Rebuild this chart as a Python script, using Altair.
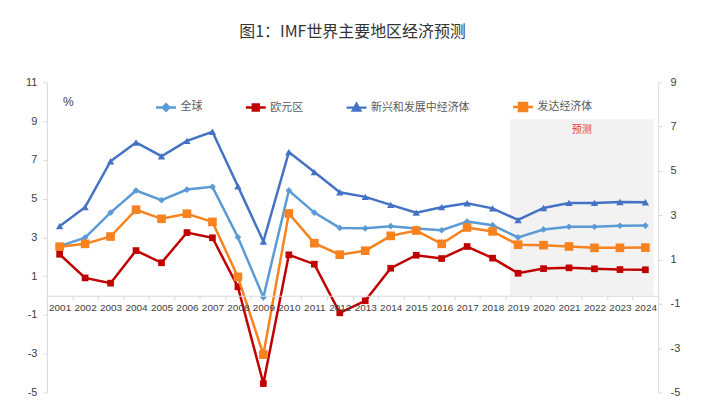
import altair as alt
import pandas as pd

# ---------------- data ----------------
years = ["2001", "2002", "2003", "2004", "2005", "2006", "2007", "2008",
         "2009", "2010", "2011", "2012", "2013", "2014", "2015", "2016",
         "2017", "2018", "2019", "2020", "2021", "2022", "2023", "2024"]
series_names = ["全球", "欧元区", "新兴和发展中经济体", "发达经济体"]

# left axis (%)
world = [2.55, 2.99, 4.28, 5.42, 4.92, 5.47, 5.61, 3.01, -0.09, 5.42, 4.28, 3.49,
         3.47, 3.58, 3.46, 3.37, 3.82, 3.63, 3.0, 3.41, 3.55, 3.55, 3.6, 3.61]
euro = [2.13, 0.91, 0.64, 2.32, 1.69, 3.25, 2.98, 0.45, -4.54, 2.10, 1.62, -0.89,
        -0.27, 1.41, 2.08, 1.91, 2.53, 1.93, 1.15, 1.39, 1.43, 1.38, 1.34, 1.33]
emerging = [3.58, 4.56, 6.93, 7.9, 7.19, 7.98, 8.45, 5.64, 2.79, 7.40, 6.37, 5.33,
            5.09, 4.68, 4.28, 4.56, 4.76, 4.50, 3.90, 4.52, 4.78, 4.78, 4.83, 4.81]
# right axis (%)
advanced = [1.58, 1.71, 2.04, 3.25, 2.84, 3.07, 2.70, 0.22, -3.29, 3.08, 1.74, 1.22,
            1.40, 2.07, 2.31, 1.71, 2.45, 2.27, 1.67, 1.65, 1.59, 1.53, 1.53, 1.54]

left_ticks = [-5, -3, -1, 1, 3, 5, 7, 9, 11]
right_ticks = [-5, -3, -1, 1, 3, 5, 7, 9]
forecast_start, forecast_end = "2019", "2024"
forecast_lo, forecast_hi = 0, 9.1
forecast_label = "预测"
label_year = "2021"

# ---------------- styles ----------------
series_colors = ["#5B9BD5", "#C00000", "#4472C4", "#F7821E"]
point_shapes = ["diamond", "square", "triangle-up", "square"]
point_sizes = [45, 45, 55, 75]
legend_paths = [
    "M-1,0H1M0,-0.32L0.32,0L0,0.32L-0.32,0Z",
    "M-1,0H1M-0.3,-0.3H0.3V0.3H-0.3Z",
    "M-1,0H1M0,-0.38L0.36,0.28H-0.36Z",
    "M-1,0H1M-0.4,-0.4H0.4V0.4H-0.4Z",
]
CJK = "Noto Sans CJK SC"
W, H = 613, 311

left_df = pd.DataFrame({
    "year": years * 3,
    "series": [n for n in series_names[:3] for _ in years],
    "value": world + euro + emerging,
})
adv_df = pd.DataFrame({"year": years, "series": series_names[3], "value": advanced})
all_df = pd.concat([left_df, adv_df], ignore_index=True)
shade_df = pd.DataFrame({"year": [forecast_start], "end": [forecast_end],
                         "value": [forecast_lo], "hi": [forecast_hi]})
label_df = pd.DataFrame({"year": [label_year], "text": [forecast_label]})

xscale = alt.Scale(domain=years, paddingInner=0, paddingOuter=0)
yl = alt.Scale(domain=[-5, 11], nice=False, zero=False)
yr = alt.Scale(domain=[-5, 9], nice=False, zero=False)

x_axis = alt.Axis(title=None, offset=-97, tickBand="extent", domainColor="#d9d9d9",
                  tickColor="#d9d9d9", tickSize=4, labelFontSize=10,
                  labelFont="Liberation Sans", labelColor="#404040", labelPadding=3,
                  labelAngle=0, labelOverlap=False, grid=False)
yl_axis = alt.Axis(values=left_ticks, title="%", titleAngle=0, titleX=21, titleY=19,
                   titleAlign="center", titleBaseline="middle", titleFontSize=12,
                   titleFontWeight="normal", titleColor="#404040",
                   domainColor="#d9d9d9", tickColor="#d9d9d9", tickSize=4,
                   labelFontSize=11, labelFont="Liberation Sans", labelColor="#404040",
                   labelPadding=6, grid=False, labelExpr="'' + datum.value")
yr_axis = alt.Axis(values=right_ticks, orient="right", title=None,
                   domainColor="#d9d9d9", tickColor="#d9d9d9", tickSize=4,
                   labelFontSize=11, labelFont="Liberation Sans", labelColor="#404040",
                   labelPadding=8, grid=False, labelExpr="'' + datum.value")


def X(**kw):
    return alt.X("year:N", scale=xscale, axis=x_axis, **kw)


def YL():
    return alt.Y("value:Q", scale=yl, axis=yl_axis)


def YR():
    return alt.Y("value:Q", scale=yr, axis=yr_axis)


shade = alt.Chart(shade_df).mark_rect(color="#F2F2F2").encode(
    x=X(bandPosition=0.18),
    x2=alt.X2("end:N", bandPosition=0.82),
    y=YL(),
    y2="hi:Q",
)

label = alt.Chart(label_df).mark_text(color="#E0393E", fontSize=10, font=CJK).encode(
    x=X(bandPosition=1),
    y=alt.value(48),
    text="text:N",
)

lines = alt.Chart(left_df).mark_line(strokeWidth=2.5).encode(
    x=X(),
    y=YL(),
    color=alt.Color("series:N", scale=alt.Scale(domain=series_names[:3],
                                                range=series_colors[:3]), legend=None),
)

pts = []
for i in range(3):
    pts.append(
        alt.Chart(left_df).transform_filter(alt.datum.series == series_names[i])
        .mark_point(shape=point_shapes[i], filled=True, size=point_sizes[i],
                    color=series_colors[i], opacity=1)
        .encode(x=X(), y=YL())
    )

leg = alt.Legend(title=None, orient="none", legendX=108, legendY=13,
                 direction="horizontal", symbolSize=400, symbolStrokeWidth=2.5,
                 labelFont=CJK, labelFontSize=11, labelColor="#595959",
                 labelOffset=3, columnPadding=38, symbolOpacity=1)
dummy = alt.Chart(all_df).mark_point(filled=True, opacity=0, strokeWidth=2.5).encode(
    x=X(),
    y=YL(),
    fill=alt.Fill("series:N", scale=alt.Scale(domain=series_names, range=series_colors),
                  legend=leg),
    stroke=alt.Stroke("series:N", scale=alt.Scale(domain=series_names, range=series_colors),
                      legend=leg),
    shape=alt.Shape("series:N", scale=alt.Scale(domain=series_names, range=legend_paths),
                    legend=leg),
)

left = alt.layer(shade, label, lines, *pts, dummy)

adv_line = alt.Chart(adv_df).mark_line(strokeWidth=2.5, color=series_colors[3]).encode(
    x=X(), y=YR(),
)
adv_pts = alt.Chart(adv_df).mark_point(shape=point_shapes[3], filled=True,
                                       size=point_sizes[3], color=series_colors[3],
                                       opacity=1).encode(x=X(), y=YR())
right = alt.layer(adv_line, adv_pts)

chart = alt.layer(left, right).resolve_scale(y="independent").properties(
    width=W, height=H,
    background="white",
    title=alt.Title("图1：IMF世界主要地区经济预测", fontSize=16, font=CJK,
                    fontWeight="normal", color="#333333", anchor="middle", offset=36),
    padding={"left": 39, "top": 74, "right": 50, "bottom": 8},
    autosize=alt.AutoSizeParams(type="none"),
).configure_view(stroke=None)

chart.save("out.html", embed_options={"renderer": "svg", "actions": False})
